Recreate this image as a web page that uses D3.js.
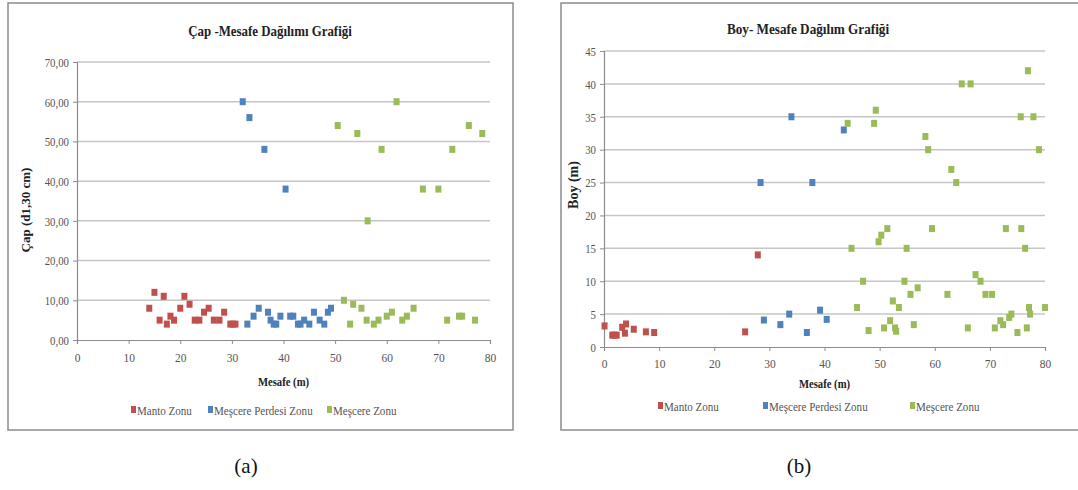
<!DOCTYPE html>
<html>
<head>
<meta charset="utf-8">
<script src="https://cdn.jsdelivr.net/npm/d3@7"></script>
<style>
  body { margin: 0; background: #fff; }
</style>
</head>
<body>
<svg id="chart" width="1078" height="490"></svg>
<script>
var FONT = "'Liberation Serif', 'Times New Roman', 'DejaVu Serif', serif";

// series names / colours
var seriesNames = ["Manto Zonu", "Meşcere Perdesi Zonu", "Meşcere Zonu"];
var seriesColors = ["#c0504d", "#4f81bd", "#9bbb59"];

// (a) Çap - Mesafe  [mesafe, çap]
var capManto = [[14,8],[15,12],[16,5],[16.8,11],[17.4,4],[18.1,6],[18.8,5],[20,8],[20.8,11],[21.8,9],
  [22.8,5],[23.7,5],[24.6,7],[25.5,8],[26.5,5],[27.6,5],[28.5,7],[29.7,4],[30.2,4],[30.7,4]];
var capPerde = [[32.1,60],[33.4,56],[36.3,48],[40.4,38],[33,4],[34.2,6],[35.2,8],[37,7],[37.5,5],[38.1,4],
  [38.6,4],[39.4,6],[41.3,6],[41.9,6],[42.8,4],[43.3,4],[44,5],[45,4],[45.9,7],[47,5],[47.9,4],[48.6,7],[49.2,8]];
var capMescere = [[50.5,54],[54.3,52],[56.3,30],[59,48],[61.9,60],[67,38],[70,38],[72.7,48],[75.9,54],[78.5,52],
  [51.7,10],[52.9,4],[53.5,9],[55.1,8],[56.1,5],[57.5,4],[58.4,5],[60,6],[61,7],[63,5],[63.9,6],[65.2,8],
  [71.7,5],[74,6],[74.6,6],[77.1,5]];
var capTicks = [0,10,20,30,40,50,60,70];

// (b) Boy - Mesafe  [mesafe, boy]
var boyManto = [[0.1,3.2],[1.5,1.8],[1.9,1.8],[2.3,1.8],[3.3,3],[4,3.5],[3.8,2.1],[5.4,2.7],[7.6,2.3],[9.1,2.2],
  [25.6,2.3],[27.9,14]];
var boyPerde = [[28.4,25],[29,4.1],[32,3.4],[33.6,5],[34,35],[36.8,2.2],[37.8,25],[39.2,5.6],[40.4,4.2],[43.5,33]];
var boyMescere = [[44.2,34],[44.9,15],[45.9,6],[47,10],[48,2.5],[49,34],[49.3,36],[49.8,16],[50.3,17],[50.8,2.9],
  [51.4,18],[51.9,4],[52.4,7],[52.8,2.9],[53,2.4],[53.5,6],[54.5,10],[54.9,15],[55.6,8],[56.2,3.4],[56.9,9],
  [58.3,32],[58.8,30],[59.5,18],[62.3,8],[63,27],[63.9,25],[64.9,40],[66,2.9],[66.5,40],[67.4,11],[68.3,10],
  [69.2,8],[70.4,8],[70.9,2.9],[71.9,4],[72.4,3.4],[72.9,18],[73.5,4.5],[73.9,5],[75,2.2],[75.6,35],[75.7,18],
  [76.4,15],[76.7,2.9],[76.9,42],[77.1,6],[77.3,5],[77.9,35],[78.9,30],[80,6]];
var boyTicks = [0,5,10,15,20,25,30,35,40,45];

var xTicks = [0,10,20,30,40,50,60,70,80];

var svg = d3.select("#chart");

// the scanned chart text is narrow, so squeeze it sideways
var label = function(parent, x, y, str, size, opts)
{
    opts = opts || {};
    var sx = opts.sx || 0.82;
    var rot = opts.rotate ? " rotate(-90)" : "";
    return parent.append("text")
      .attr("transform", "translate(" + x + "," + y + ")" + rot + " scale(" + sx + ",1)")
      .attr("text-anchor", opts.anchor || "start")
      .style("font-family", FONT).style("font-size", size + "px")
      .style("font-weight", opts.bold ? "bold" : "normal")
      .attr("fill", opts.fill || "#222")
      .text(str);
}

var drawPanel = function(cfg)
{
    var g = svg.append("g");

    // frame
    g.append("rect")
      .attr("x", cfg.frame[0]).attr("y", cfg.frame[1])
      .attr("width", cfg.frame[2]).attr("height", cfg.frame[3])
      .attr("fill", "#fff").attr("stroke", "#8c8c8c").attr("stroke-width", 1.5);

    var x = d3.scaleLinear().domain([0, 80]).range([cfg.left, cfg.right]);
    var y = d3.scaleLinear().domain([0, cfg.yMax]).range([cfg.bottom, cfg.top]);

    // gridlines
    g.selectAll(".grid").data(cfg.yTicks.slice(1)).enter().append("line")
      .attr("x1", cfg.left).attr("x2", cfg.right)
      .attr("y1", d => y(d)).attr("y2", d => y(d))
      .attr("stroke", "#c6c6c6").attr("stroke-width", 1.5);

    var yAxis = g.append("g").attr("transform", "translate(" + cfg.left + ",0)")
      .call(d3.axisLeft(y).tickValues(cfg.yTicks).tickSize(4).tickFormat(cfg.yFormat));
    var xAxis = g.append("g").attr("transform", "translate(0," + cfg.bottom + ")")
      .call(d3.axisBottom(x).tickValues(xTicks).tickSize(4).tickFormat(d3.format("d")));
    [xAxis, yAxis].forEach(function(a) {
        a.select(".domain").attr("stroke", "#8c8c8c").attr("stroke-width", 1.2);
        a.selectAll(".tick line").attr("stroke", "#8c8c8c");
        a.selectAll(".tick text").style("font-family", FONT).style("font-size", "13.5px").attr("fill", "#555");
    });
    yAxis.selectAll(".tick text").attr("x", null).attr("dy", "0.32em")
      .attr("transform", "translate(-8,0) scale(0.8,1)");
    xAxis.selectAll(".tick text").attr("y", null).attr("dy", "0.71em")
      .attr("transform", "translate(0," + cfg.xTickPad + ") scale(0.85,1)");

    // points
    cfg.series.forEach(function(s, i) {
        g.selectAll(".p" + i).data(s).enter().append("rect")
          .attr("x", d => x(d[0]) - 3).attr("y", d => y(d[1]) - 3.5)
          .attr("width", 6).attr("height", 7)
          .attr("fill", seriesColors[i]);
    });

    // title and axis titles
    label(g, cfg.titleX, cfg.titleY, cfg.title, 15, {anchor: "middle", bold: true, sx: cfg.titleSx});
    label(g, (cfg.left + cfg.right) / 2, cfg.xLabelY, "Mesafe (m)", 13, {anchor: "middle", bold: true});
    label(g, cfg.yLabelX, cfg.yLabelY, cfg.yLabel, cfg.yLabelSize, {anchor: "middle", bold: true, rotate: true, sx: 1});

    // legend
    seriesNames.forEach(function(n, i) {
        var lx = cfg.legendX[i];
        g.append("rect").attr("x", lx).attr("y", cfg.legendY - 9).attr("width", 5).attr("height", 7)
          .attr("fill", seriesColors[i]);
        label(g, lx + 6, cfg.legendY, n, 13, {fill: "#555", sx: 0.85});
    });

    // caption
    label(svg, cfg.captionX, 473, cfg.caption, 21, {anchor: "middle", fill: "#111", sx: 1});
}

drawPanel({
    frame: [8, 3, 505, 427],
    left: 77, right: 490, top: 62, bottom: 340,
    yMax: 70, yTicks: capTicks,
    yFormat: d => d3.format(".2f")(d).replace(".", ","),
    series: [capManto, capPerde, capMescere],
    title: "Çap -Mesafe Dağılımı Grafiği", titleX: 270, titleY: 36, titleSx: 0.86,
    xTickPad: 12, xLabelY: 386,
    yLabel: "Çap (d1,30 cm)", yLabelX: 30, yLabelY: 210, yLabelSize: 13,
    legendX: [131, 208, 327], legendY: 415,
    caption: "(a)", captionX: 246
});

drawPanel({
    frame: [561, 3, 530, 427],
    left: 604, right: 1045, top: 51, bottom: 347,
    yMax: 45, yTicks: boyTicks,
    yFormat: d3.format("d"),
    series: [boyManto, boyPerde, boyMescere],
    title: "Boy- Mesafe  Dağılım Grafiği", titleX: 808, titleY: 34, titleSx: 0.88,
    xTickPad: 11, xLabelY: 388,
    yLabel: "Boy  (m)", yLabelX: 578, yLabelY: 185, yLabelSize: 14,
    legendX: [658, 763, 910], legendY: 411,
    caption: "(b)", captionX: 799
});
</script>
</body>
</html>
